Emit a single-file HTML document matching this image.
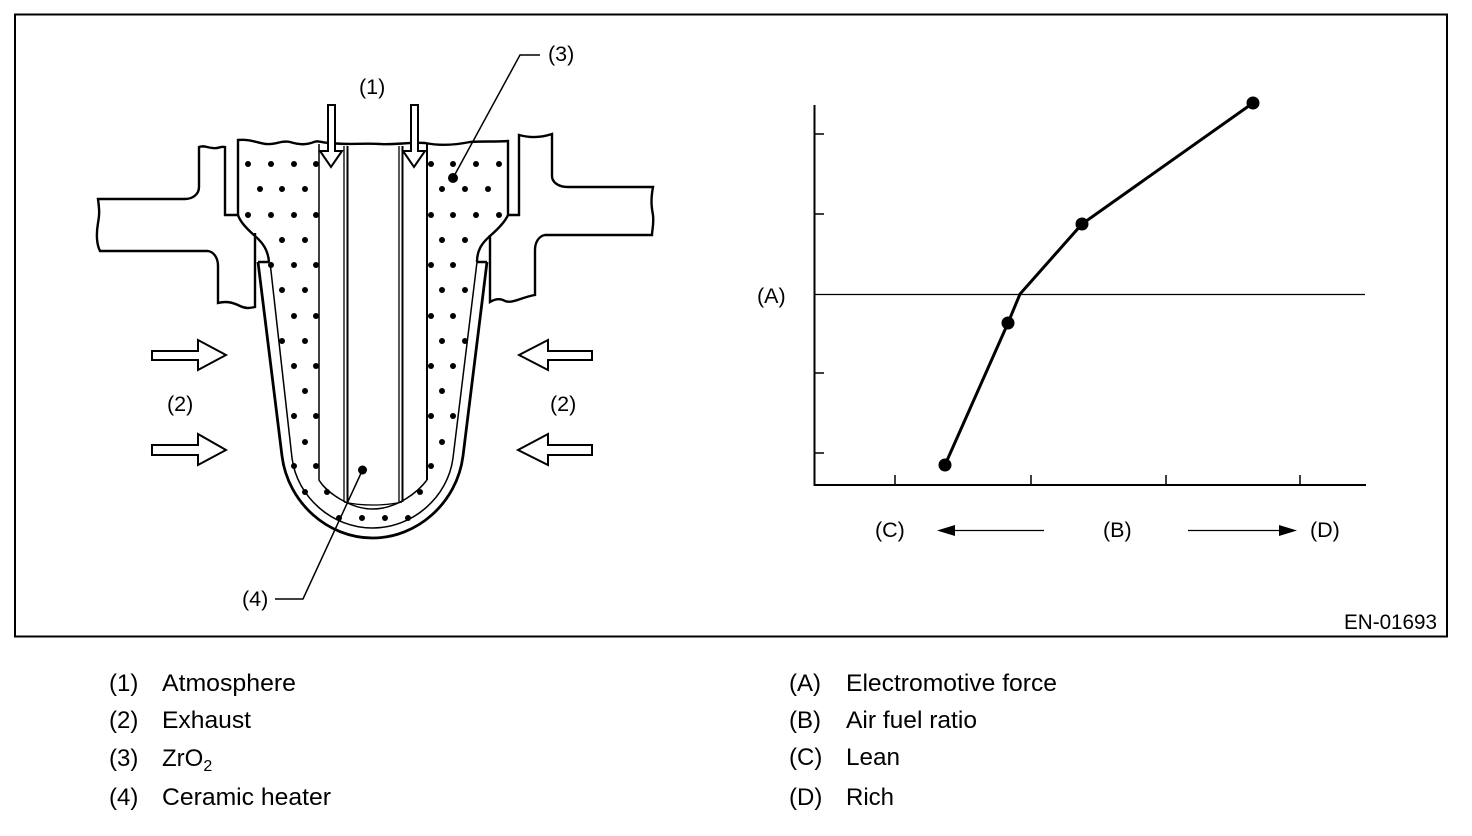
<!DOCTYPE html>
<html><head><meta charset="utf-8"><style>
html,body{margin:0;padding:0;background:#fff}
svg{display:block}
text{font-family:"Liberation Sans",sans-serif;fill:#000}
.l{font-size:24px}
.d{font-size:21.500px}
</style></head><body>
<svg width="1472" height="836" viewBox="0 0 1472 836" xmlns="http://www.w3.org/2000/svg">
<rect x="15" y="14.5" width="1432" height="622" fill="none" stroke="#000" stroke-width="2"/>
<g fill="none" stroke="#000" stroke-width="2.4">
<path d="M238 215V140C250 139 258 143 266 144C275 145 282 140 290 142C300 145 306 145 314 142C318 140 322 143 330 143C345 145 365 143 380 144C395 145 410 142 425 143C440 146 455 145 470 142C485 141 495 142 508 141V215C505 222 498 229 490 236C482 243 477 250 477 262"/>
<path d="M238 215C240 222 247 229 255 236C263 243 268 250 269 262"/>
<path d="M199 187V147C204 145 208 148 213 148C218 149 221 146 225 147V215H238"/>
<path d="M199 187C199 194 193 199 185 199H98C99 208 100 212 98 223C96 235 97 245 100 251H208C214 252 218 258 218 266V303C226 301 232 302 240 306C246 309 250 308 255 307V233"/>
<path d="M508 215H519V135C530 138 540 138 552 134V176C552 182 558 187 568 187H653C651 198 651 205 653 215C654 225 652 230 652 235H545C539 236 535 242 535 250V295C522 297 512 304 505 301C500 298 495 299 490 302V235"/>
<path d="M258 262H269M477 262H487"/>
<path d="M258 262L282 456C288 503 328 538 372.500 538C417 538 457 503 463 456L487 262" stroke-width="2.800"/>
</g>
<g fill="none" stroke="#000">
<path d="M270 262L292 458C297 497 332 528 372.500 528C413 528 448 497 453 458L477 262" stroke-width="1.500"/>
<path d="M319 144V480C326 492 350 509 372.500 509C397 509 418 492 427 480" stroke-width="1.500"/>
<path d="M427 144V480" stroke-width="2"/>
<path d="M344 146V502M399 146V502" stroke-width="1.300"/>
<path d="M347.500 146V502M402.500 146V502" stroke-width="2"/>
<path d="M344 502C360 506 385 506 402 502" stroke-width="1.300"/>
</g>
<g fill="#000">
<g>
<circle cx="248" cy="164" r="3"/><circle cx="271" cy="164" r="3"/><circle cx="294" cy="164" r="3"/><circle cx="316" cy="164" r="3"/>
<circle cx="260" cy="189" r="3"/><circle cx="282" cy="189" r="3"/><circle cx="305" cy="189" r="3"/>
<circle cx="248" cy="215" r="3"/><circle cx="271" cy="215" r="3"/><circle cx="294" cy="215" r="3"/><circle cx="316" cy="215" r="3"/>
<circle cx="282" cy="240" r="3"/><circle cx="305" cy="240" r="3"/>
<circle cx="271" cy="265" r="3"/><circle cx="294" cy="265" r="3"/><circle cx="316" cy="265" r="3"/>
<circle cx="282" cy="290" r="3"/><circle cx="305" cy="290" r="3"/>
<circle cx="294" cy="316" r="3"/><circle cx="316" cy="316" r="3"/>
<circle cx="282" cy="341" r="3"/><circle cx="305" cy="341" r="3"/>
<circle cx="294" cy="366" r="3"/><circle cx="316" cy="366" r="3"/>
<circle cx="305" cy="391" r="3"/>
<circle cx="294" cy="416" r="3"/><circle cx="316" cy="416" r="3"/>
<circle cx="305" cy="442" r="3"/>
<circle cx="294" cy="466" r="3"/><circle cx="316" cy="466" r="3"/>
<circle cx="305" cy="492" r="3"/><circle cx="327" cy="492" r="3"/><circle cx="420" cy="492" r="3"/>
<circle cx="339" cy="518" r="3"/><circle cx="362" cy="518" r="3"/><circle cx="385" cy="518" r="3"/><circle cx="408" cy="518" r="3"/>
<circle cx="431" cy="164" r="3"/><circle cx="453" cy="164" r="3"/><circle cx="476" cy="164" r="3"/><circle cx="499" cy="164" r="3"/>
<circle cx="442" cy="189" r="3"/><circle cx="465" cy="189" r="3"/><circle cx="488" cy="189" r="3"/>
<circle cx="431" cy="215" r="3"/><circle cx="453" cy="215" r="3"/><circle cx="476" cy="215" r="3"/><circle cx="499" cy="215" r="3"/>
<circle cx="442" cy="240" r="3"/><circle cx="465" cy="240" r="3"/>
<circle cx="431" cy="265" r="3"/><circle cx="453" cy="265" r="3"/>
<circle cx="442" cy="290" r="3"/><circle cx="465" cy="290" r="3"/>
<circle cx="431" cy="316" r="3"/><circle cx="453" cy="316" r="3"/>
<circle cx="442" cy="341" r="3"/><circle cx="465" cy="341" r="3"/>
<circle cx="431" cy="366" r="3"/><circle cx="453" cy="366" r="3"/>
<circle cx="442" cy="391" r="3"/>
<circle cx="431" cy="416" r="3"/><circle cx="453" cy="416" r="3"/>
<circle cx="442" cy="442" r="3"/>
<circle cx="431" cy="466" r="3"/>
</g>
<circle cx="453" cy="178" r="5"/>
<circle cx="362.500" cy="470" r="4.500"/>
</g>
<g fill="#fff" stroke="#000" stroke-width="2">
<path d="M328 105H335V151H342L331 167L320 151H328Z"/>
<path d="M411 105H418V151H425L414 167L403 151H411Z"/>
<path d="M152 351H198V340L226 355L198 370V360H152Z"/>
<path d="M152 445H198V434L226 450L198 465V455H152Z"/>
<path d="M592 351H548V340L519 355L548 370V360H592Z"/>
<path d="M592 445H548V434L518 450L548 465V455H592Z"/>
</g>
<g fill="none" stroke="#000" stroke-width="1.500">
<path d="M540 55H520L453 178"/>
<path d="M362.500 470L303 599H275"/>
</g>
<g fill="none" stroke="#000">
<path d="M814.500 105V485H1366" stroke-width="2"/>
<path d="M814 134H824M814 214H824M814 373H824M814 453H824M895 485V475M1031 485V475M1166 485V475M1300 485V475" stroke-width="1.500"/>
<path d="M814 294.500H1365" stroke-width="1.200"/>
<path d="M945 465L1008 323L1020 294L1082 224L1253 103" stroke-width="3"/>
<path d="M953 530.500H1044M1188 530.500H1280" stroke-width="1.300"/>
</g>
<g fill="#000">
<circle cx="945" cy="465" r="6.500"/><circle cx="1008" cy="323" r="6.500"/><circle cx="1082" cy="224" r="6.500"/><circle cx="1253" cy="103" r="6.500"/>
<path d="M937 530.500L955 525V536Z"/><path d="M1297 530.500L1279 525V536Z"/>
</g>
<g class="d">
<text x="359" y="94">(1)</text>
<text x="548" y="61">(3)</text>
<text x="167" y="411">(2)</text>
<text x="550" y="411">(2)</text>
<text x="242" y="606">(4)</text>
<text x="757" y="303">(A)</text>
<text x="875" y="537">(C)</text>
<text x="1103" y="537">(B)</text>
<text x="1310" y="537">(D)</text>
<text x="1344" y="629" textLength="93" lengthAdjust="spacingAndGlyphs" font-size="21">EN-01693</text>
</g>
<g class="l">
<text x="109" y="691">(1)</text><text x="162" y="691" textLength="134" lengthAdjust="spacingAndGlyphs">Atmosphere</text>
<text x="109" y="728">(2)</text><text x="162" y="728" textLength="89" lengthAdjust="spacingAndGlyphs">Exhaust</text>
<text x="109" y="766">(3)</text><text x="162" y="766">ZrO<tspan font-size="16" dy="5">2</tspan></text>
<text x="109" y="805">(4)</text><text x="162" y="805" textLength="169" lengthAdjust="spacingAndGlyphs">Ceramic heater</text>
<text x="789" y="691">(A)</text><text x="846" y="691" textLength="211" lengthAdjust="spacingAndGlyphs">Electromotive force</text>
<text x="789" y="728">(B)</text><text x="846" y="728" textLength="131" lengthAdjust="spacingAndGlyphs">Air fuel ratio</text>
<text x="789" y="765">(C)</text><text x="846" y="765" textLength="54" lengthAdjust="spacingAndGlyphs">Lean</text>
<text x="789" y="805">(D)</text><text x="846" y="805" textLength="48" lengthAdjust="spacingAndGlyphs">Rich</text>
</g>
</svg>
</body></html>
